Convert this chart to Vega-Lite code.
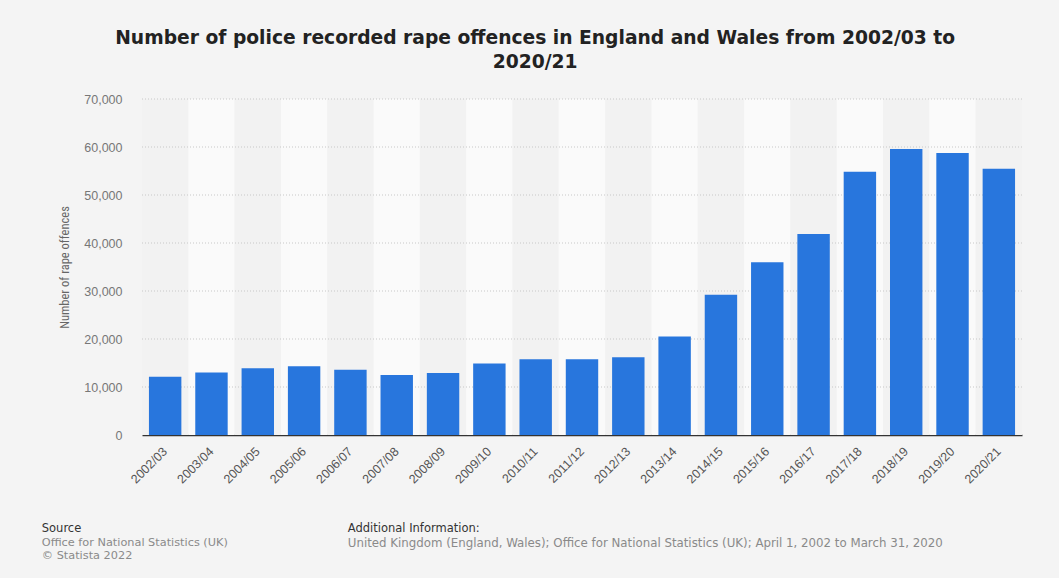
{
  "$schema": "https://vega.github.io/schema/vega-lite/v6.json",
  "background": "#f4f4f4",
  "padding": {"left": 41, "top": 29, "right": 37, "bottom": 18},
  "config": {
    "font": "Liberation Sans",
    "view": {"stroke": null},
    "concat": {"spacing": 0}
  },
  "title": {
    "text": ["Number of police recorded rape offences in England and Wales from 2002/03 to", "2020/21"],
    "anchor": "middle",
    "frame": "bounds",
    "font": "DejaVu Sans",
    "fontSize": 18.7,
    "fontWeight": "bold",
    "color": "#222222",
    "lineHeight": 24,
    "offset": 21,
    "dx": 3
  },
  "vconcat": [
    {
      "title": {
        "text": "Additional Information:",
        "subtitle": "United Kingdom (England, Wales); Office for National Statistics (UK); April 1, 2002 to March 31, 2020",
        "orient": "bottom",
        "anchor": "start",
        "frame": "bounds",
        "font": "DejaVu Sans",
        "fontSize": 11.5,
        "fontWeight": "normal",
        "color": "#333333",
        "subtitleFont": "DejaVu Sans",
        "subtitleFontSize": 11.8,
        "subtitleColor": "#8a8a8a",
        "subtitlePadding": 3,
        "offset": 0,
        "dx": 306,
        "dy": -38
      },
      "vconcat": [
        {
          "title": {
            "text": "Source",
            "subtitle": ["Office for National Statistics (UK)", "© Statista 2022"],
            "orient": "bottom",
            "anchor": "start",
            "frame": "bounds",
            "font": "DejaVu Sans",
            "fontSize": 11.5,
            "fontWeight": "normal",
            "color": "#333333",
            "subtitleFont": "DejaVu Sans",
            "subtitleFontSize": 11.3,
            "subtitleColor": "#8a8a8a",
            "subtitlePadding": 3,
            "subtitleLineHeight": 13,
            "offset": 37,
            "dx": -17
          },
          "width": 880,
          "height": 336,
          "layer": [
            {
              "data": {"name": "main"},
              "mark": {"type": "bar", "width": {"band": 1.4285714}},
              "encoding": {
                "x": {"field": "year", "type": "nominal"},
                "y": {"datum": 70000, "type": "quantitative"},
                "y2": {"datum": 0},
                "color": {
                  "field": "year",
                  "type": "nominal",
                  "scale": {"range": ["#f2f2f2", "#fafafa"]},
                  "legend": null
                }
              }
            },
            {
              "data": {"name": "grid"},
              "mark": {"type": "rule", "color": "#c8c8c8", "strokeDash": [1, 2], "strokeWidth": 1},
              "encoding": {
                "y": {"field": "tick", "type": "quantitative"}
              }
            },
            {
              "data": {"name": "main"},
              "mark": {"type": "bar", "color": "#2876dd"},
              "encoding": {
                "x": {
                  "field": "year",
                  "type": "nominal",
                  "scale": {"paddingInner": 0.3, "paddingOuter": 0.15},
                  "axis": {
                    "title": null,
                    "labelAngle": -45,
                    "labelAlign": "right",
                    "labelBaseline": "middle",
                    "labelFontSize": 12.5,
                    "labelColor": "#555555",
                    "labelPadding": 14,
                    "ticks": false,
                    "domainColor": "#333333",
                    "domainWidth": 1.5
                  }
                },
                "y": {
                  "field": "offences",
                  "type": "quantitative",
                  "scale": {"domain": [0, 70000], "nice": false},
                  "axis": {
                    "title": "Number of rape offences",
                    "titleFont": "Liberation Sans Narrow, Roboto Condensed, DejaVu Sans Condensed",
                    "titleFontSize": 12.5,
                    "titleFontWeight": "normal",
                    "titleColor": "#666666",
                    "titlePadding": 12,
                    "values": [0, 10000, 20000, 30000, 40000, 50000, 60000, 70000],
                    "format": ",d",
                    "labelFontSize": 12.5,
                    "labelColor": "#777777",
                    "labelPadding": 20,
                    "ticks": false,
                    "domain": false,
                    "grid": false
                  }
                }
              }
            }
          ]
        }
      ]
    }
  ],
  "datasets": {
    "main": [
      {"year": "2002/03", "offences": 12150},
      {"year": "2003/04", "offences": 13000},
      {"year": "2004/05", "offences": 13900},
      {"year": "2005/06", "offences": 14300},
      {"year": "2006/07", "offences": 13600},
      {"year": "2007/08", "offences": 12500},
      {"year": "2008/09", "offences": 12900},
      {"year": "2009/10", "offences": 14900},
      {"year": "2010/11", "offences": 15800},
      {"year": "2011/12", "offences": 15800},
      {"year": "2012/13", "offences": 16200},
      {"year": "2013/14", "offences": 20500},
      {"year": "2014/15", "offences": 29200},
      {"year": "2015/16", "offences": 36000},
      {"year": "2016/17", "offences": 41850},
      {"year": "2017/18", "offences": 54850},
      {"year": "2018/19", "offences": 59600},
      {"year": "2019/20", "offences": 58750},
      {"year": "2020/21", "offences": 55450}
    ],
    "grid": [
      {"tick": 10000},
      {"tick": 20000},
      {"tick": 30000},
      {"tick": 40000},
      {"tick": 50000},
      {"tick": 60000},
      {"tick": 70000}
    ]
  }
}
